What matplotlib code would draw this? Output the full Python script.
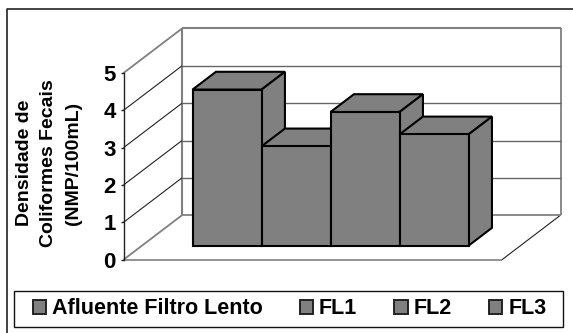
import matplotlib
matplotlib.use("Agg")
import matplotlib.pyplot as plt
from matplotlib.lines import Line2D
from matplotlib.patches import Polygon, Patch, Rectangle

plt.rcParams["font.family"] = ["Liberation Sans", "DejaVu Sans"]

categories = ["Afluente Filtro Lento", "FL1", "FL2", "FL3"]
values = [4.18, 2.66, 3.58, 2.98]
value_ticks = [0, 1, 2, 3, 4, 5]
y_label = "Densidade de\nColiformes Fecais\n(NMP/100mL)"

W, H = 573, 333
GREY = "#808080"
EDGE = "#000000"

# Oblique 3D look: one unit of depth shifts a point right and up the sheet.
FLOOR_LEN = 5.485
DEPTH_X = 0.848
DEPTH_Y = 1.192
BAR_START = 0.733
BAR_NEAR = 0.315
BAR_FAR = 0.715


def project(x, value, depth):
    return (x + depth * DEPTH_X, value + depth * DEPTH_Y)


fig = plt.figure(figsize=(W / 100, H / 100), dpi=100, facecolor="white")

# Outer frame: only its top and left sides fall inside the sheet.
fig.add_artist(Line2D([6.5 / W, 6.5 / W, 1], [0, 1 - 9 / H, 1 - 9 / H],
                      transform=fig.transFigure, color="#222222", lw=1.2))

ax = fig.add_axes([123.5 / W, 1 - 259.7 / H, 378.5 / W, 186.7 / H])
ax.set_xlim(0, FLOOR_LEN)
ax.set_ylim(0, 5)
ax.patch.set_visible(False)
for name, spine in ax.spines.items():
    spine.set_visible(name == "left")
ax.spines["left"].set_linewidth(1.0)
ax.spines["left"].set_color("#222222")
ax.set_xticks([])
ax.set_yticks(value_ticks)
ax.tick_params(axis="y", length=2.5, width=1.0, pad=3, color="#222222")
for label in ax.get_yticklabels():
    label.set_fontsize(16)
    label.set_fontweight("bold")


def line(points, color, lw):
    xs, ys = zip(*points)
    ax.plot(xs, ys, color=color, lw=lw, clip_on=False, solid_capstyle="butt", zorder=1)


# Floor edges and the back and side walls with their grid lines.
line([project(0, 0, 0), project(FLOOR_LEN, 0, 0)], GREY, 1.2)
line([project(FLOOR_LEN, 0, 0), project(FLOOR_LEN, 0, 1)], "#222222", 0.8)
line([project(0, 0, 0), project(0, 0, 1)], GREY, 1.3)
line([project(0, 5, 0), project(0, 5, 1)], GREY, 1.3)
line([project(0, 0, 1), project(0, 5, 1)], GREY, 1.5)
line([project(FLOOR_LEN, 0, 1), project(FLOOR_LEN, 5, 1)], GREY, 1.3)
line([project(0, 5, 1), project(FLOOR_LEN, 5, 1)], GREY, 1.5)
line([project(0, 0, 1), project(FLOOR_LEN, 0, 1)], GREY, 1.3)
for tick in value_ticks[1:-1]:
    line([project(0, tick, 0), project(0, tick, 1)], "#222222", 0.8)
    line([project(0, tick, 1), project(FLOOR_LEN, tick, 1)], "#666666", 1.0)


def face(points, z):
    ax.add_patch(Polygon(points, closed=True, facecolor=GREY, edgecolor=EDGE,
                         linewidth=1.5, joinstyle="miter", clip_on=False, zorder=z))


# Bars go left to right so each one overlaps the side of its neighbour.
for i, v in enumerate(values):
    x0, x1 = BAR_START + i, BAR_START + i + 1
    z = 2 + i
    face([project(x0, v, BAR_NEAR), project(x0, v, BAR_FAR),
          project(x1, v, BAR_FAR), project(x1, v, BAR_NEAR)], z)
    face([project(x1, 0, BAR_NEAR), project(x1, 0, BAR_FAR),
          project(x1, v, BAR_FAR), project(x1, v, BAR_NEAR)], z)
    face([project(x0, 0, BAR_NEAR), project(x1, 0, BAR_NEAR),
          project(x1, v, BAR_NEAR), project(x0, v, BAR_NEAR)], z)

fig.text(49 / W, 1 - 163 / H, y_label, rotation=90, ha="center", va="center",
         fontsize=14, fontweight="bold", linespacing=1.55, multialignment="center")

# Legend box drawn separately from its entries for its wide inner margins.
fig.add_artist(Rectangle((14 / W, 1 - 327 / H), 549 / W, 36.5 / H,
                         transform=fig.transFigure, facecolor="white",
                         edgecolor="#111111", linewidth=1.0))
handles = [Patch(facecolor=GREY, edgecolor="#222222", linewidth=1.4) for _ in categories]
legend = fig.legend(handles, categories, ncol=4, loc="center",
                    bbox_to_anchor=(289.5 / W, 1 - 309 / H), frameon=False,
                    prop={"weight": "bold", "size": 15.5},
                    handlelength=0.62, handleheight=0.62, handletextpad=0.28,
                    columnspacing=1.72, borderpad=0, borderaxespad=0)

fig.savefig("out.png", dpi=100)
